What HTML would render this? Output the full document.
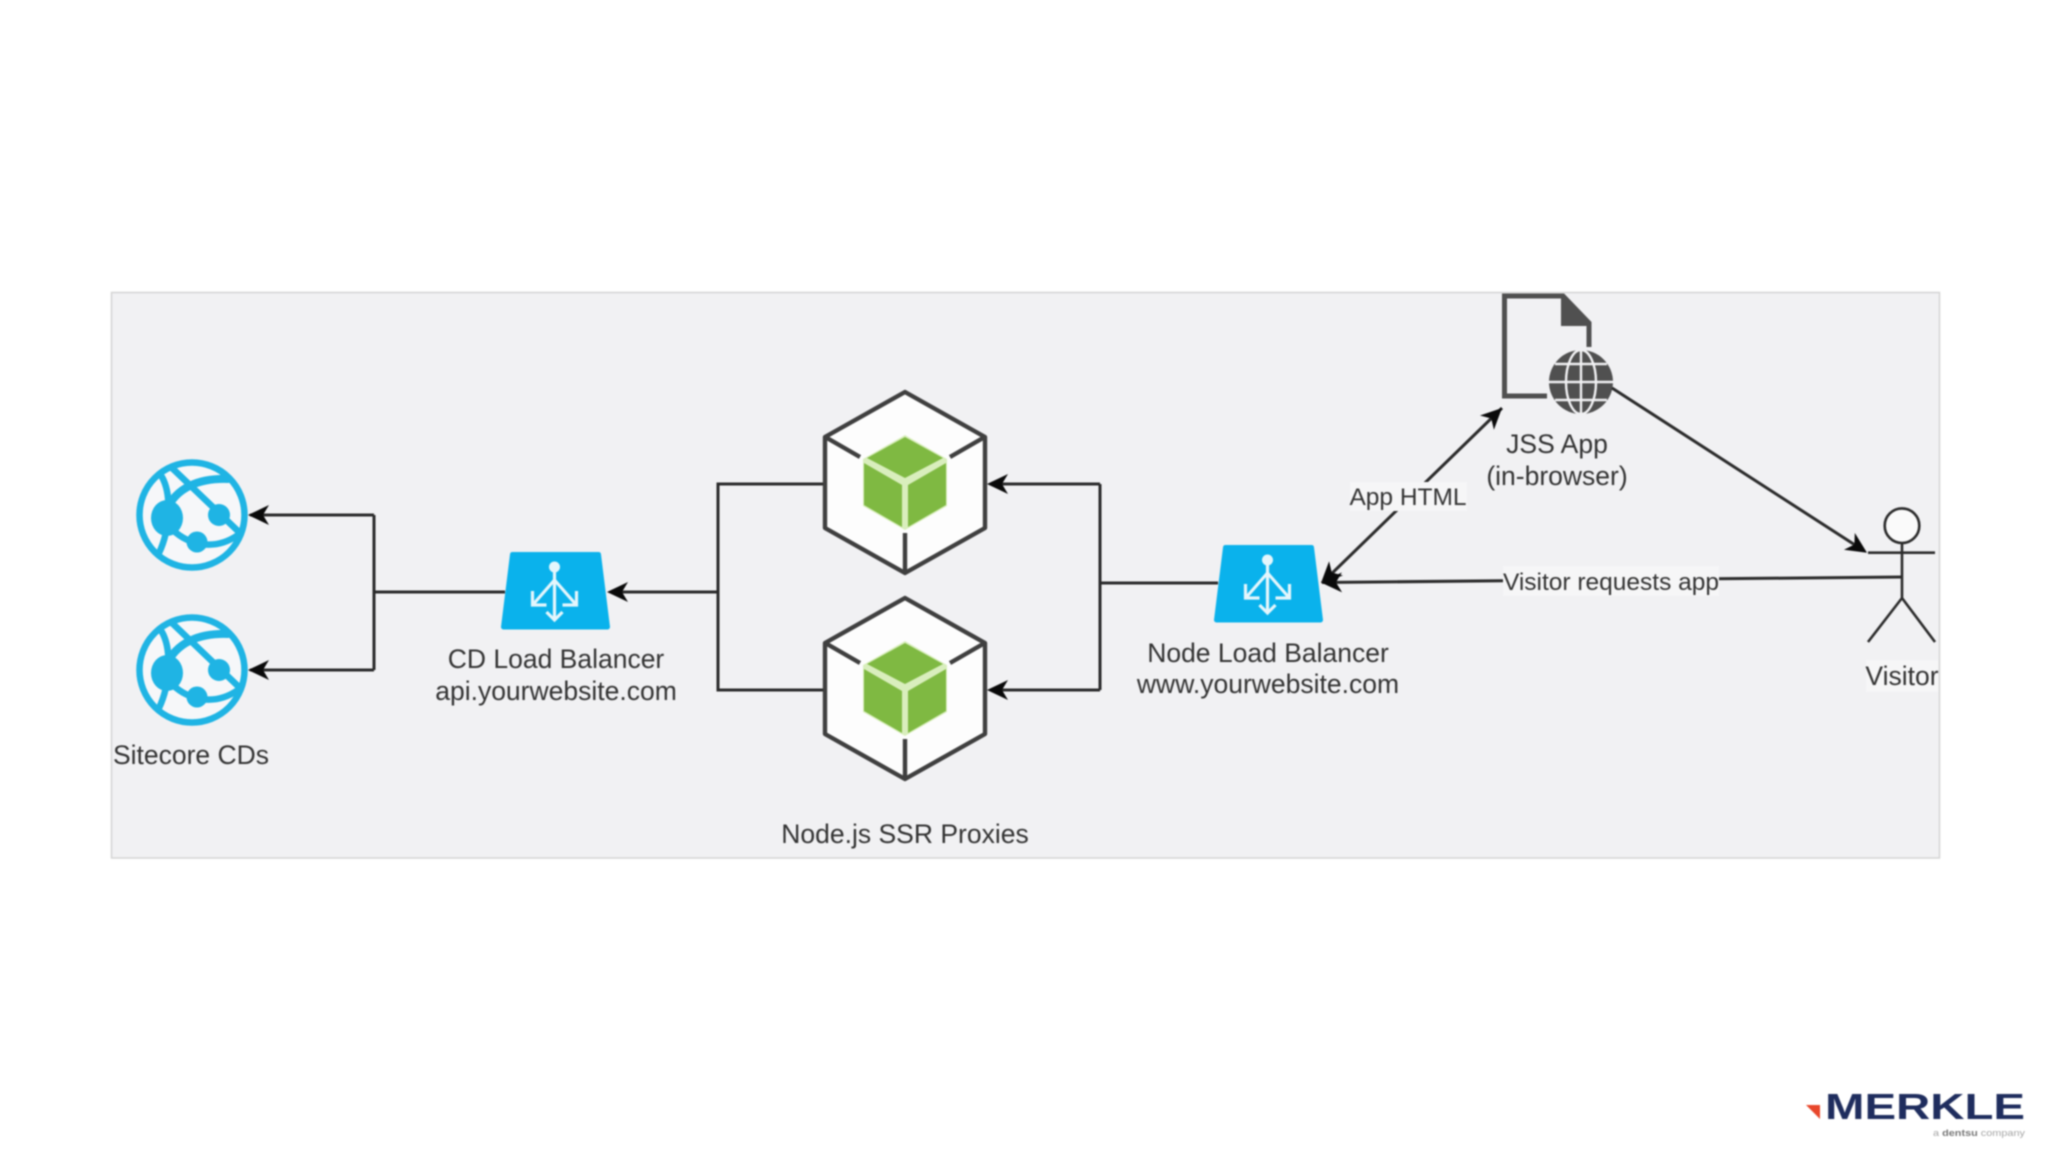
<!DOCTYPE html>
<html>
<head>
<meta charset="utf-8">
<style>
html,body{margin:0;padding:0;background:#fff;width:2048px;height:1152px;overflow:hidden}
svg{display:block;filter:blur(0.7px)}
text{font-family:"Liberation Sans",Arial,sans-serif}
.t{font-size:26.5px;fill:#333;text-anchor:middle}
.s{font-size:24.5px}
.l{fill:none;stroke:#2b2b2b;stroke-width:3}
</style>
</head>
<body>
<svg width="2048" height="1152" viewBox="0 0 2048 1152" xmlns="http://www.w3.org/2000/svg">
<defs>
  <path id="ah" d="M0 0L21 -10L15 0L21 10Z" fill="#0a0a0a"/>
  <g id="globe">
    <circle cx="0" cy="0" r="52.5" fill="#f6f7f9" stroke="#1fb4e4" stroke-width="6.5"/>
    <g fill="none" stroke="#1fb4e4" stroke-width="6.5" stroke-linecap="round">
      <path d="M-21 -48L48 18"/>
      <path d="M-30 -38C-20 -20 -22 15 -33 38"/>
      <path d="M-26 -4C-16 -28 8 -37 36 -36" stroke-width="8"/>
      <path d="M-22 12C-8 28 20 38 46 20"/>
    </g>
    <ellipse cx="-25" cy="3" rx="16" ry="18" fill="#1fb4e4"/>
    <circle cx="27" cy="0" r="11" fill="#1fb4e4"/>
    <circle cx="5" cy="27" r="10.5" fill="#1fb4e4"/>
  </g>
  <g id="lb">
    <path d="M-43 2.5L43 2.5L52 75L-52 75Z" fill="#0ab2ec" stroke="#0ab2ec" stroke-width="5" stroke-linejoin="round"/>
    <g fill="none" stroke="#e4f6fc" stroke-width="3.2">
      <path d="M-1 20V68"/>
      <path d="M-1 28L-22 52M-1 28L20 52"/>
      <path d="M-23 39V53H-9"/>
      <path d="M21 39V53H7"/>
      <path d="M-9 60L-1 68L7 60"/>
    </g>
    <circle cx="-1" cy="15" r="5.5" fill="#e4f6fc"/>
  </g>
  <g id="hex">
    <path d="M905 392L985 437V528L905 573L825 528V437Z" fill="#fdfdfd" stroke="#3f3f3f" stroke-width="4.4" stroke-linejoin="round"/>
    <path d="M827 438L860 457M983 438L950 457M905 533V573" fill="none" stroke="#3f3f3f" stroke-width="4.4"/>
    <path d="M905 435L947 459V506L905 530L863 506V459Z" fill="#d9eebd"/>
    <path d="M905 437L943 458L905 478L867 458Z" fill="#7fb942"/>
    <path d="M864 463L902 485V527L864 505Z" fill="#7fb942"/>
    <path d="M946 463L908 485V527L946 505Z" fill="#7fb942"/>
  </g>
</defs>

<rect width="2048" height="1152" fill="#fff"/>
<rect x="111.5" y="292.5" width="1828" height="565.5" fill="#f1f1f3" stroke="#d4d4d4" stroke-width="1.5"/>

<!-- connectors -->
<path class="l" d="M505 592H374M374 515V670M250 515H374M250 670H374"/>
<use href="#ah" x="248" y="515"/>
<use href="#ah" x="248" y="670"/>
<path class="l" d="M825 484H718V690H825M718 592H610"/>
<use href="#ah" x="607" y="592"/>
<path class="l" d="M1218 583H1100M1100 484V690M990 484H1100M990 690H1100"/>
<use href="#ah" x="987" y="484"/>
<use href="#ah" x="987" y="690"/>

<!-- globes -->
<use href="#globe" x="192" y="515"/>
<use href="#globe" x="192" y="670"/>

<!-- load balancers -->
<use href="#lb" x="555.5" y="552"/>
<use href="#lb" x="1268.5" y="545"/>

<!-- hexes -->
<use href="#hex"/>
<use href="#hex" y="206"/>

<!-- document + globe -->
<g fill="none" stroke="#505050" stroke-width="5">
  <path d="M1547 396H1504.5V296H1563L1589 323V347"/>
</g>
<path d="M1561 296L1591 322V326H1561Z" fill="#505050"/>
<g>
  <circle cx="1581" cy="382" r="32" fill="#505050"/>
  <g fill="none" stroke="#f1f1f3" stroke-width="2.4">
    <ellipse cx="1581" cy="382" rx="15" ry="32"/>
    <path d="M1581 350V414M1549 382H1613M1555 364H1607M1555 400H1607"/>
  </g>
</g>

<!-- other connectors -->
<path class="l" d="M1322 583L1502 408"/>
<use href="#ah" transform="translate(1502 408) rotate(135.8)"/>
<use href="#ah" transform="translate(1321 583) rotate(-44.2)"/>
<path class="l" d="M1322 582.5L1902 577"/>
<use href="#ah" transform="translate(1321 582.5) rotate(-0.5)"/>
<path class="l" d="M1612 388L1862 549.5"/>
<use href="#ah" transform="translate(1867 552.7) rotate(212.9)"/>

<!-- actor -->
<g fill="none" stroke="#2b2b2b" stroke-width="2.6">
  <circle cx="1902" cy="525.7" r="17.3" fill="#fafafa"/>
  <path d="M1902 543V598M1868 552.7H1935M1902 598L1868 642M1902 598L1935 642"/>
</g>

<!-- label backgrounds -->
<rect x="1350" y="482" width="117" height="29" fill="#f6f6f7"/>
<rect x="1503" y="566" width="216" height="30" fill="#f6f6f7"/>
<rect x="1866" y="660" width="72" height="32" fill="#f6f6f7"/>

<!-- labels -->
<text class="t" x="191" y="764">Sitecore CDs</text>
<text class="t" x="556" y="668">CD Load Balancer</text>
<text class="t" x="556" y="700">api.yourwebsite.com</text>
<text class="t" x="905" y="843">Node.js SSR Proxies</text>
<text class="t" x="1268" y="662">Node Load Balancer</text>
<text class="t" x="1268" y="693">www.yourwebsite.com</text>
<text class="t" x="1557" y="453">JSS App</text>
<text class="t" x="1557" y="485">(in-browser)</text>
<text class="t s" x="1408" y="505">App HTML</text>
<text class="t s" x="1611" y="590">Visitor requests app</text>
<text class="t" x="1902" y="685">Visitor</text>

<!-- logo -->
<path d="M1806 1105H1820V1119Z" fill="#e8472b"/>
<text x="1825" y="1119" font-size="36" font-weight="700" fill="#1f2d5e" textLength="200" lengthAdjust="spacingAndGlyphs">MERKLE</text>
<text x="1933" y="1136" font-size="9.5" fill="#a5a5a5" textLength="92" lengthAdjust="spacingAndGlyphs">a <tspan font-weight="700" fill="#777">dentsu</tspan> company</text>
</svg>
</body>
</html>
